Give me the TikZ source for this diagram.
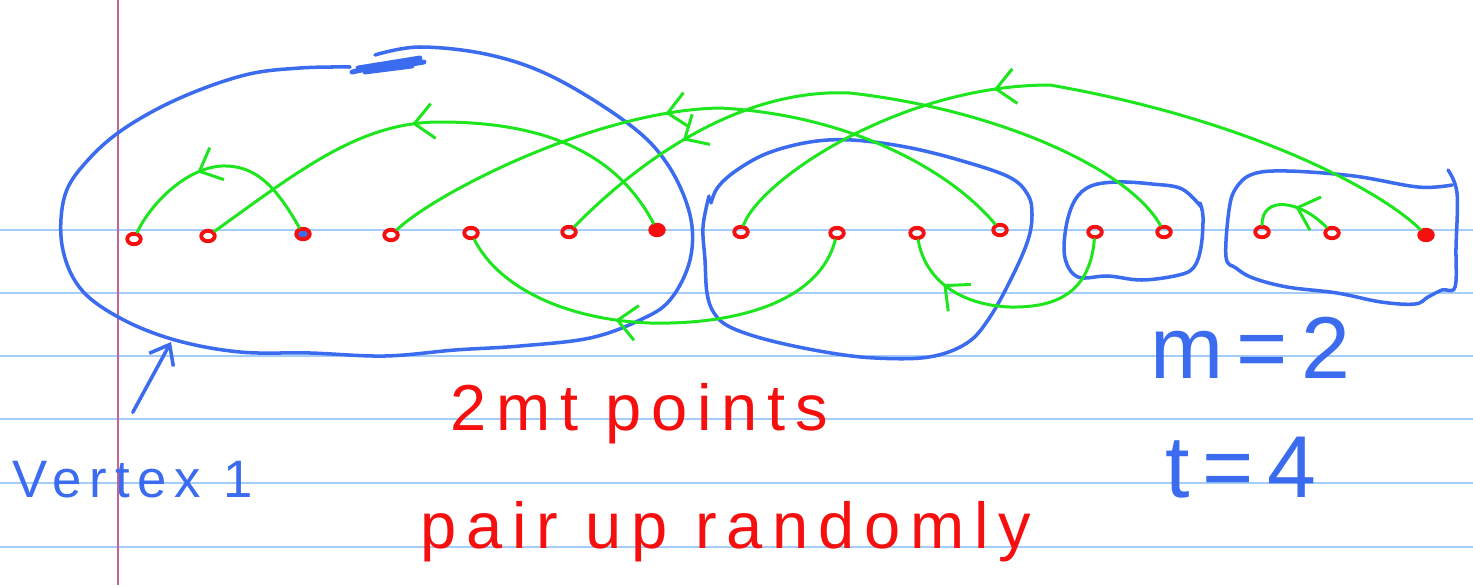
\documentclass[tikz,border=0pt]{standalone}
\usepackage{fontspec}
\setmainfont{Liberation Sans}
\newfontfamily\hand[LetterSpace=15]{Liberation Sans}
\usetikzlibrary{arrows.meta,decorations.markings,shapes.geometric}
\definecolor{inkblue}{RGB}{59,108,240}
\definecolor{inkgreen}{RGB}{30,230,30}
\definecolor{inkred}{RGB}{245,15,15}
\definecolor{ruleblue}{RGB}{165,205,250}
\definecolor{marginred}{RGB}{195,100,140}

\begin{document}
\begin{tikzpicture}[
  x=0.02cm, y=-0.02cm,
  pnt/.style={ellipse, draw=inkred, line width=2.2pt, minimum width=0.27cm, minimum height=0.21cm, inner sep=0pt},
  pntfill/.style={pnt, fill=inkred},
  grp/.style={draw=inkblue, line width=2pt, line cap=round, line join=round},
  pair/.style={draw=inkgreen, line width=1.7pt, line cap=round, postaction={decorate},
    decoration={markings, mark=at position #1 with {\arrow[inkgreen, line width=1.7pt]{Straight Barb[length=3.8mm, width=7mm]}}}},
  rule/.style={draw=ruleblue, line width=1.1pt},
  txt/.style={inner sep=0pt, anchor=base west}
]
  \fill[white] (0,0) rectangle (1473,585);
  \useasboundingbox (0,0) rectangle (1473,585);
  \foreach \y in {230,293,356,419,483,547}
    \draw[rule] (0,\y) -- (1473,\y);
  \draw[marginred, line width=0.7pt] (118,0) -- (118,585);

  \draw[grp] plot[smooth, tension=0.6] coordinates {(375,55) (420,47) (490,55) (555,78) (630,125) (668,165) (690,215) (690,260) (670,300) (640,320) (590,338) (520,346) (455,350) (385,356) (310,353) (240,352) (175,340) (120,318) (80,288) (62,245) (65,195) (88,160) (125,128) (180,98) (245,75) (300,68) (350,67)};
  \draw[grp, line width=2.8pt] (352,72) -- (420,58) -- (358,68) -- (424,62) -- (365,72) -- (412,66);
  \draw[grp] plot[smooth, tension=0.6] coordinates {(711,203) (718,187) (737,170) (768,153) (810,142) (852,140) (906,147) (959,160) (1009,177) (1028,195) (1032,215) (1028,240) (1013,275) (990,317) (967,343) (929,357) (875,358) (825,352) (768,340) (730,327) (714,313) (707,293) (705,260) (703,227) (709,196)};
  \draw[grp] plot[smooth, tension=0.6] coordinates {(1202,208) (1182,189) (1152,184) (1118,182) (1091,186) (1075,200) (1066,227) (1065,258) (1078,277) (1108,276) (1142,280) (1179,275) (1194,267) (1201,247) (1203,217) (1200,203)};
  \draw[grp] plot[smooth, tension=0.6] coordinates {(1452,185) (1418,187) (1354,176) (1287,171) (1253,174) (1236,188) (1229,210) (1226,257) (1236,268) (1253,278) (1287,287) (1337,293) (1381,302) (1415,304) (1428,297) (1442,290) (1455,287) (1456,247) (1457,193) (1448,170)};

  \node[pnt] (p1) at (134,239) {};
  \node[pnt] (p2) at (208,236) {};
  \node[pnt, fill=inkblue] (p3) at (303,234) {};
  \node[pnt] (p4) at (391,235) {};
  \node[pnt] (p5) at (471,233) {};
  \node[pnt] (p6) at (569,232) {};
  \node[pntfill] (p7) at (657,230) {};
  \node[pnt] (p8) at (741,232) {};
  \node[pnt] (p9) at (837,233) {};
  \node[pnt] (p10) at (917,233) {};
  \node[pnt] (p11) at (1000,230) {};
  \node[pnt] (p12) at (1095,232) {};
  \node[pnt] (p13) at (1164,232) {};
  \node[pnt] (p14) at (1262,232) {};
  \node[pnt] (p15) at (1332,233) {};
  \node[pntfill] (p16) at (1426,235) {};

  \draw[pair=0.6] (p3) .. controls (275,185) and (255,165) .. (222,166) .. controls (185,168) and (150,205) .. (p1);
  \draw[pair=0.55] (p7) .. controls (615,150) and (540,122) .. (440,122) .. controls (360,122) and (300,170) .. (p2);
  \draw[pair=0.55] (p11) .. controls (950,170) and (850,115) .. (720,108) .. controls (600,110) and (440,190) .. (p4);
  \draw[pair=0.79] (p13) .. controls (1130,170) and (1000,110) .. (850,93) .. controls (740,88) and (640,160) .. (p6);
  \draw[pair=0.61] (p16) .. controls (1380,190) and (1250,120) .. (1050,85) .. controls (900,85) and (760,180) .. (p8);
  \draw[pair=0.6] (p9) .. controls (820,300) and (740,325) .. (650,323) .. controls (570,320) and (500,290) .. (p5);
  \draw[pair=0.79] (p12) .. controls (1090,290) and (1060,308) .. (1010,307) .. controls (960,305) and (925,280) .. (p10);
  \draw[pair=0.45] (p15) .. controls (1300,200) and (1262,195) .. (p14);

  \node[txt, text=inkblue, font=\hand\fontsize{30}{32}\selectfont] (vlabel) at (12,497) {Vertex 1};
  \node[txt, text=inkred, font=\hand\fontsize{37}{40}\selectfont] (count) at (450,430) {2mt points};
  \node[txt, text=inkred, font=\hand\fontsize{37}{40}\selectfont] (rand) at (420,548) {pair up randomly};
  \node[txt, text=inkblue, font=\hand\fontsize{50}{54}\selectfont] (mval) at (1150,378) {m=2};
  \node[txt, text=inkblue, font=\hand\fontsize{50}{54}\selectfont] (tval) at (1165,497) {t=4};

  \coordinate (vtip) at (171,342);
  \draw[grp, -{Straight Barb[length=3.5mm, width=5.5mm]}] ([yshift=0.96cm]vlabel.north) -- (vtip);
\end{tikzpicture}
\end{document}
